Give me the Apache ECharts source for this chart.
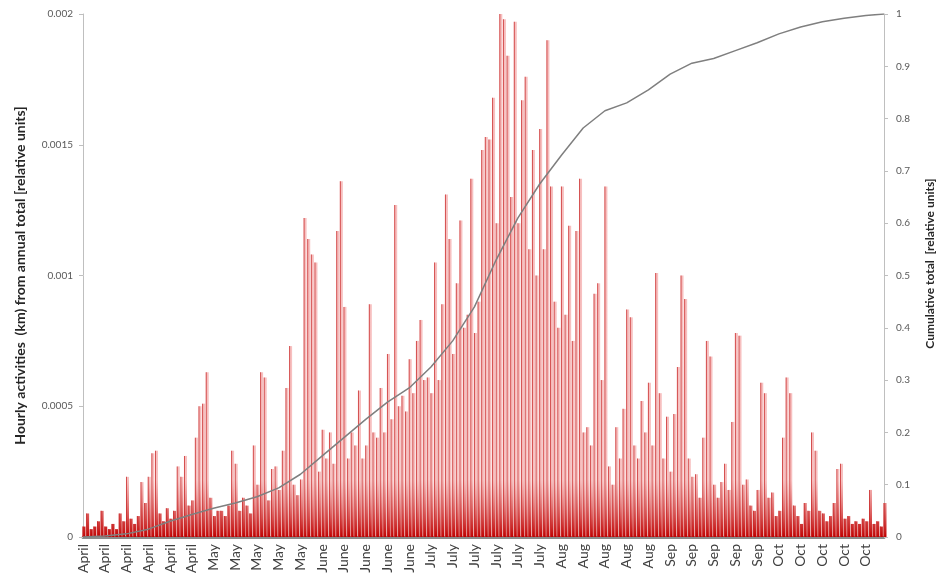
<!DOCTYPE html>
<html>
<head>
<meta charset="utf-8">
<script src="https://cdn.jsdelivr.net/npm/echarts@6/dist/echarts.min.js"></script>
<style>
  html, body { margin: 0; padding: 0; background: #fff; }
  #chart { width: 944px; height: 581px; }
</style>
</head>
<body>
<div id="chart"></div>
<script>
// tick labels on the x axis, one every 6 days
const tickLabels = [
  'April', 'April', 'April', 'April', 'April', 'April',
  'May', 'May', 'May', 'May', 'May',
  'June', 'June', 'June', 'June', 'June',
  'July', 'July', 'July', 'July', 'July', 'July',
  'Aug', 'Aug', 'Aug', 'Aug', 'Aug',
  'Sep', 'Sep', 'Sep', 'Sep', 'Sep',
  'Oct', 'Oct', 'Oct', 'Oct', 'Oct'
];

// daily peak of hourly activity, in 1e-5 of the annual total
const dailyPeak = [
  4, 9, 3, 4, 6, 10, 4, 3, 5, 3,
  9, 6, 23, 7, 5, 8, 21, 13, 23, 32,
  33, 9, 6, 11, 7, 10, 27, 23, 31, 12,
  14, 38, 50, 51, 63, 15, 8, 10, 10, 8,
  12, 33, 28, 10, 15, 12, 9, 35, 20, 63,
  61, 14, 26, 27, 18, 33, 57, 73, 20, 16,
  22, 122, 114, 108, 105, 25, 41, 30, 40, 28,
  117, 136, 88, 30, 40, 35, 56, 30, 35, 89,
  40, 38, 57, 40, 70, 45, 127, 50, 54, 48,
  68, 55, 75, 83, 60, 61, 55, 105, 60, 89,
  131, 114, 70, 97, 121, 80, 85, 137, 78, 90,
  148, 153, 152, 168, 120, 200, 198, 184, 130, 197,
  120, 167, 176, 110, 148, 100, 156, 110, 190, 134,
  90, 80, 134, 85, 119, 75, 117, 137, 40, 42,
  35, 93, 97, 60, 134, 27, 20, 42, 30, 49,
  87, 84, 35, 30, 52, 40, 59, 35, 101, 55,
  30, 46, 25, 47, 65, 100, 91, 30, 23, 24,
  15, 38, 75, 69, 20, 15, 21, 28, 18, 44,
  78, 77, 20, 22, 12, 10, 18, 59, 55, 15,
  17, 8, 10, 38, 61, 55, 12, 8, 5, 13,
  10, 40, 33, 10, 9, 6, 8, 13, 26, 28,
  7, 8, 5, 6, 5, 7, 6, 18, 5, 6,
  4, 13
];

// cumulative total read at these day indices
const cumDays = [
  0, 6, 12, 18, 24, 30, 36, 42, 48, 54,
  60, 66, 72, 78, 84, 90, 96, 102, 108, 114,
  120, 126, 132, 138, 144, 150, 156, 162, 168, 174,
  180, 186, 192, 198, 204, 210, 216, 221
];
const cumValues = [
  0, 0.002, 0.006, 0.015, 0.03, 0.043, 0.055, 0.065, 0.077, 0.094,
  0.12, 0.155, 0.19, 0.225, 0.258, 0.285, 0.325, 0.375, 0.44, 0.53,
  0.61, 0.675, 0.73, 0.782, 0.815, 0.83, 0.855, 0.885, 0.906, 0.915,
  0.93, 0.945, 0.962, 0.975, 0.985, 0.992, 0.997, 1.0
];

const days = dailyPeak.map((v, i) => 'd' + i);
const peaks = dailyPeak.map(v => v / 100000);
const chart = echarts.init(document.getElementById('chart'));
const font = 'Lato, "Liberation Sans", sans-serif';

const option = {
  animation: false,
  backgroundColor: '#fff',
  grid: { left: 83, right: 52, top: 14, bottom: 44 },
  xAxis: {
    type: 'category',
    data: days,
    boundaryGap: false,
    axisLine: { lineStyle: { color: '#8c8c8c', width: 3 } },
    axisTick: { show: false },
    axisLabel: {
      interval: 5,
      rotate: 90,
      margin: 7,
      color: '#404040',
      fontSize: 14,
      fontFamily: font,
      formatter: (v, i) => tickLabels[Math.round(i / 6)] || ''
    },
    splitLine: { show: false }
  },
  yAxis: [
    {
      type: 'value',
      min: 0,
      max: 0.002,
      interval: 0.0005,
      name: 'Hourly activities  (km) from annual total [relative units]',
      nameLocation: 'middle',
      nameGap: 56,
      nameTextStyle: { fontSize: 14, fontWeight: 'bold', color: '#262626', fontFamily: font },
      axisLine: { show: true, lineStyle: { color: '#bfbfbf' } },
      axisTick: { show: true, length: 4, lineStyle: { color: '#bfbfbf' } },
      axisLabel: { color: '#595959', fontSize: 10, fontFamily: font, margin: 10,
        formatter: v => v === 0 ? '0' : String(+v.toFixed(4)) },
      splitLine: { show: false }
    },
    {
      type: 'value',
      min: 0,
      max: 1,
      interval: 0.1,
      name: 'Cumulative total  [relative units]',
      nameLocation: 'middle',
      nameGap: 40,
      nameTextStyle: { fontSize: 12, fontWeight: 'bold', color: '#262626', fontFamily: font,
        padding: [0, 0, 0, 24] },
      axisLine: { show: true, lineStyle: { color: '#bfbfbf' } },
      axisTick: { show: true, length: 4, lineStyle: { color: '#bfbfbf' } },
      axisLabel: { color: '#595959', fontSize: 10, fontFamily: font, margin: 12,
        formatter: v => String(+v.toFixed(1)) },
      splitLine: { show: false }
    }
  ],
  series: [
    {
      name: 'Hourly activities',
      type: 'bar',
      yAxisIndex: 0,
      barWidth: 3,
      data: peaks,
      itemStyle: {
        color: {
          type: 'linear', global: true,
          x: 0, y: 480, x2: 0, y2: 537,
          colorStops: [
            { offset: 0, color: 'rgba(240,140,140,0.55)' },
            { offset: 1, color: '#c00000' }
          ]
        }
      }
    },
    {
      name: 'Hourly activities peak',
      type: 'bar',
      yAxisIndex: 0,
      barWidth: 1,
      barGap: '-100%',
      data: peaks,
      itemStyle: { color: 'rgba(200,40,40,0.75)' }
    },
    {
      name: 'Cumulative total',
      type: 'line',
      yAxisIndex: 1,
      data: cumDays.map((d, k) => [d, cumValues[k]]),
      showSymbol: false,
      lineStyle: { color: '#7f7f7f', width: 1.5 },
      z: 5
    }
  ]
};
chart.setOption(option);
window.addEventListener('resize', () => chart.resize());
</script>
</body>
</html>
